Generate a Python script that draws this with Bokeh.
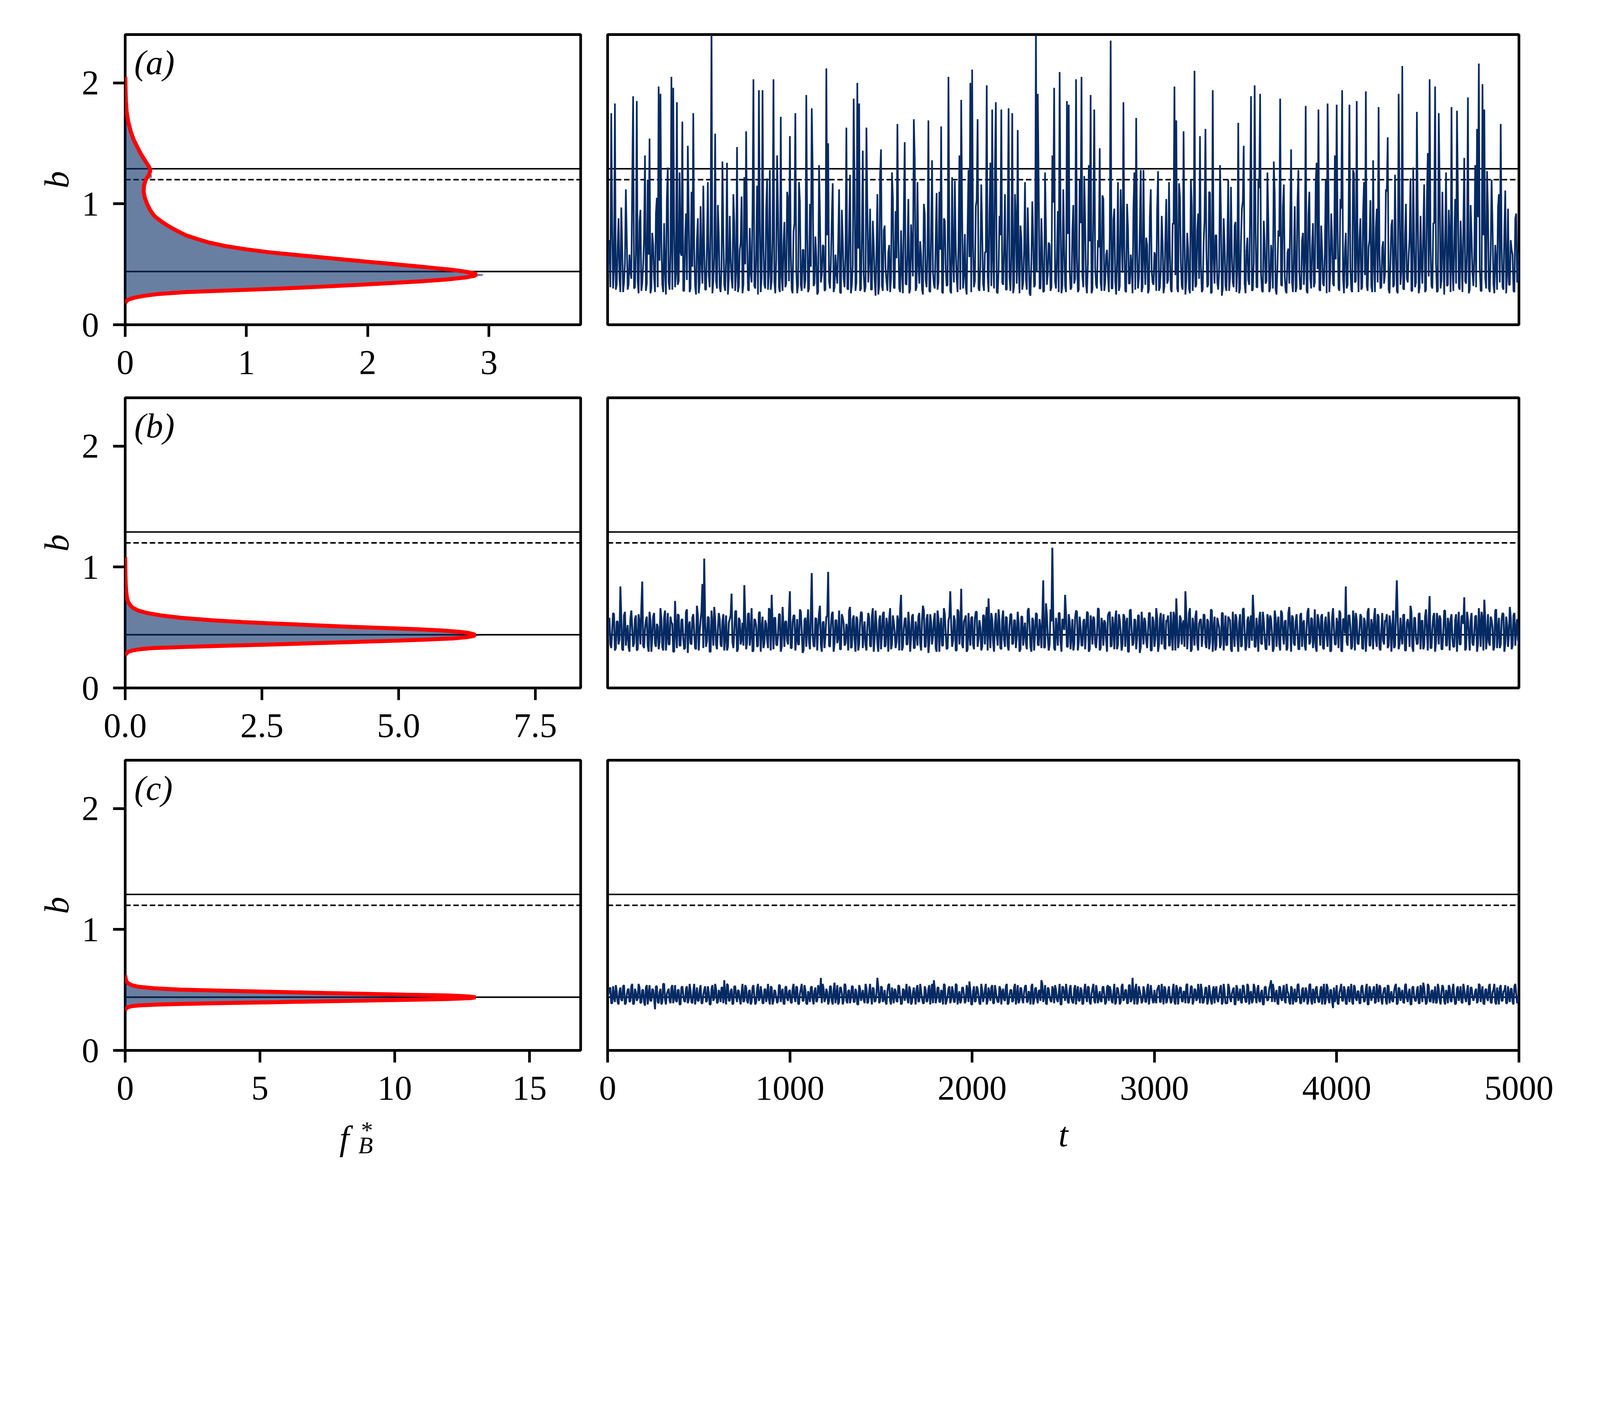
import numpy as np
from bokeh.plotting import figure
from bokeh.layouts import column, row
from bokeh.models import Span, Label, FixedTicker, Range1d
from bokeh.embed import file_html
from bokeh.resources import INLINE

# ---------------- data ----------------
# threshold / fixed-point levels of b
b_upper = 1.29
b_dashed = 1.20
b_stable = 0.44

# x-limits of the three density panels
xmax_left = [3.756, 8.33, 16.9]

# panel (a) histogram outline (b, f_B*) and analytic density
hist_a_b = [0.190, 0.200, 0.215, 0.230, 0.245, 0.260, 0.275, 0.290, 0.305, 0.320, 0.335, 0.350, 0.365, 0.380,
            0.395, 0.405, 0.418, 0.425, 0.440, 0.455, 0.470, 0.485, 0.500, 0.520, 0.540, 0.560, 0.580, 0.600,
            0.625, 0.650, 0.680, 0.710, 0.740, 0.780, 0.820, 0.860, 0.900, 0.950, 1.000, 1.050, 1.100, 1.150,
            1.200, 1.215, 1.240, 1.255, 1.300, 1.340, 1.380, 1.420, 1.470, 1.530, 1.600, 1.680, 1.760, 1.850,
            1.950, 2.050, 2.100]
hist_a_f = [0.00, 0.01, 0.03, 0.10, 0.20, 0.36, 0.62, 1.05, 1.42, 1.72, 2.02, 2.28, 2.52, 2.70,
            2.84, 2.95, 2.95, 2.86, 2.78, 2.67, 2.52, 2.37, 2.21, 1.99, 1.78, 1.57, 1.37, 1.17,
            0.98, 0.82, 0.68, 0.58, 0.49, 0.41, 0.34, 0.28, 0.235, 0.20, 0.175, 0.158, 0.148, 0.152,
            0.168, 0.22, 0.22, 0.20, 0.195, 0.17, 0.145, 0.12, 0.095, 0.068, 0.043, 0.024, 0.012, 0.007,
            0.004, 0.002, 0.000]
pdf_a_b = [0.180, 0.195, 0.210, 0.225, 0.240, 0.255, 0.270, 0.285, 0.300, 0.315, 0.330, 0.345, 0.360, 0.375,
           0.390, 0.405, 0.415, 0.425, 0.440, 0.455, 0.470, 0.485, 0.500, 0.520, 0.540, 0.560, 0.580, 0.600,
           0.625, 0.650, 0.680, 0.710, 0.740, 0.780, 0.820, 0.860, 0.900, 0.950, 1.000, 1.050, 1.100, 1.150,
           1.200, 1.240, 1.270, 1.300, 1.340, 1.380, 1.420, 1.470, 1.530, 1.600, 1.680, 1.760, 1.850, 1.950,
           2.050]
pdf_a_f = [0.000, 0.010, 0.030, 0.080, 0.160, 0.280, 0.500, 0.900, 1.300, 1.620, 1.920, 2.200, 2.450, 2.660,
           2.800, 2.880, 2.895, 2.880, 2.800, 2.690, 2.540, 2.390, 2.230, 2.010, 1.800, 1.590, 1.380, 1.180,
           0.990, 0.830, 0.690, 0.590, 0.500, 0.420, 0.350, 0.290, 0.240, 0.205, 0.180, 0.162, 0.152, 0.155,
           0.170, 0.195, 0.207, 0.200, 0.175, 0.150, 0.125, 0.100, 0.070, 0.045, 0.025, 0.012, 0.006, 0.003,
           0.001]

# panel (b)
hist_b_b = [0.280, 0.295, 0.305, 0.315, 0.325, 0.335, 0.345, 0.355, 0.365, 0.375, 0.385, 0.395, 0.405, 0.415,
            0.425, 0.432, 0.440, 0.447, 0.455, 0.465, 0.475, 0.485, 0.495, 0.505, 0.515, 0.525, 0.535, 0.545,
            0.560, 0.580, 0.600, 0.620, 0.640, 0.660, 0.680, 0.710, 0.750, 0.800, 0.860, 0.930, 1.000]
hist_b_f = [0.00, 0.04, 0.09, 0.19, 0.38, 0.80, 1.50, 2.30, 3.10, 3.80, 4.52, 5.20, 5.75, 6.12,
            6.32, 6.51, 6.51, 6.35, 6.25, 6.06, 5.76, 5.34, 4.76, 4.12, 3.62, 3.10, 2.58, 2.11,
            1.55, 1.00, 0.63, 0.39, 0.23, 0.14, 0.09, 0.05, 0.027, 0.015, 0.008, 0.004, 0.000]
pdf_b_b = [0.270, 0.285, 0.300, 0.310, 0.320, 0.330, 0.340, 0.350, 0.360, 0.370, 0.380, 0.390, 0.400, 0.410,
           0.420, 0.430, 0.438, 0.445, 0.455, 0.465, 0.475, 0.485, 0.495, 0.505, 0.515, 0.525, 0.535, 0.545,
           0.560, 0.580, 0.600, 0.620, 0.640, 0.660, 0.680, 0.710, 0.750, 0.800, 0.860, 0.930, 1.000, 1.080]
pdf_b_f = [0.000, 0.020, 0.060, 0.130, 0.260, 0.500, 1.150, 1.900, 2.700, 3.460, 4.160, 4.880, 5.500, 6.000,
           6.250, 6.370, 6.400, 6.370, 6.280, 6.100, 5.800, 5.380, 4.800, 4.150, 3.650, 3.140, 2.620, 2.150,
           1.580, 1.020, 0.650, 0.400, 0.240, 0.150, 0.100, 0.055, 0.030, 0.018, 0.010, 0.005, 0.002, 0.000]

# panel (c)
hist_c_b = [0.335, 0.348, 0.358, 0.366, 0.373, 0.379, 0.385, 0.392, 0.399, 0.405, 0.412, 0.419, 0.426, 0.433,
            0.440, 0.447, 0.455, 0.462, 0.470, 0.478, 0.486, 0.495, 0.504, 0.515, 0.527, 0.541, 0.556, 0.572,
            0.595, 0.620]
hist_c_f = [0.00, 0.03, 0.10, 0.26, 0.55, 1.20, 2.15, 3.75, 5.50, 7.05, 8.85, 10.55, 12.10, 12.90,
            13.05, 12.80, 11.95, 10.30, 8.60, 6.85, 5.25, 3.50, 1.95, 1.00, 0.47, 0.21, 0.10, 0.045,
            0.015, 0.000]
pdf_c_b = [0.330, 0.345, 0.355, 0.365, 0.372, 0.378, 0.384, 0.391, 0.398, 0.404, 0.411, 0.418, 0.425, 0.432,
           0.439, 0.446, 0.454, 0.461, 0.469, 0.477, 0.485, 0.494, 0.503, 0.514, 0.526, 0.540, 0.555, 0.570,
           0.590, 0.620]
pdf_c_f = [0.000, 0.020, 0.080, 0.220, 0.500, 1.100, 2.030, 3.600, 5.360, 6.900, 8.690, 10.400, 12.000, 12.800,
           13.000, 12.750, 12.000, 10.400, 8.690, 6.950, 5.360, 3.600, 2.030, 1.050, 0.500, 0.230, 0.110, 0.050,
           0.020, 0.000]

# time series of b (values x100): ts_* sampled at t = 0, 10, ..., 5000;
# ts_*_mid sampled at the half steps t = 5, 15, ..., 4995
ts_a = [
    42, 70, 175, 30, 183, 33, 88, 27, 64, 35, 112, 29, 58, 38, 189, 31, 185, 26, 95, 34,
    72, 28, 120, 154, 30, 66, 27, 105, 197, 191, 33, 84, 25, 130, 29, 205, 196, 31, 184, 36,
    60, 168, 28, 92, 148, 27, 110, 175, 32, 70, 26, 98, 34, 62, 29, 118, 31, 245, 36, 158,
    30, 74, 27, 135, 33, 56, 25, 90, 38, 108, 28, 147, 32, 68, 26, 122, 160, 29, 80, 35,
    203, 30, 115, 194, 27, 194, 33, 96, 29, 128, 36, 203, 26, 140, 31, 172, 28, 85, 34, 104,
    156, 29, 77, 175, 26, 118, 33, 62, 30, 190, 27, 100, 179, 32, 73, 25, 132, 35, 66, 28,
    212, 150, 30, 88, 27, 58, 34, 112, 26, 71, 31, 163, 29, 124, 33, 187, 28, 200, 183, 30,
    144, 27, 163, 35, 96, 29, 67, 24, 108, 32, 145, 28, 82, 36, 60, 27, 126, 31, 94, 166,
    30, 78, 26, 151, 33, 104, 29, 64, 170, 28, 118, 34, 57, 25, 92, 31, 169, 27, 136, 33,
    70, 29, 110, 164, 26, 86, 32, 205, 28, 122, 35, 64, 27, 140, 186, 30, 75, 25, 128, 200,
    211, 31, 98, 170, 28, 116, 34, 60, 198, 27, 134, 178, 30, 184, 26, 90, 178, 33, 108, 29,
    179, 28, 175, 32, 84, 161, 26, 72, 35, 118, 29, 63, 24, 102, 31, 245, 191, 30, 88, 27,
    126, 33, 68, 28, 140, 196, 30, 94, 209, 26, 112, 32, 185, 182, 29, 78, 34, 203, 27, 120,
    205, 31, 86, 26, 132, 190, 29, 178, 33, 70, 146, 28, 104, 35, 62, 27, 235, 30, 96, 25,
    118, 32, 74, 184, 28, 100, 34, 58, 26, 126, 171, 30, 80, 27, 128, 33, 66, 29, 112, 35,
    60, 28, 127, 31, 90, 26, 72, 34, 118, 29, 84, 197, 169, 27, 106, 32, 160, 25, 76, 30,
    120, 28, 210, 33, 92, 156, 27, 68, 162, 31, 110, 26, 194, 34, 74, 29, 132, 24, 88, 32,
    64, 28, 114, 35, 82, 27, 167, 30, 96, 148, 26, 72, 33, 189, 29, 198, 31, 120, 191, 28,
    86, 34, 126, 27, 66, 30, 108, 25, 78, 187, 32, 116, 28, 60, 34, 145, 27, 98, 31, 128,
    29, 70, 33, 181, 26, 110, 30, 84, 35, 134, 178, 28, 62, 32, 120, 183, 27, 92, 34, 140,
    182, 30, 104, 194, 26, 76, 33, 182, 29, 128, 35, 185, 27, 88, 31, 118, 193, 28, 70, 32,
    136, 27, 96, 180, 30, 64, 34, 112, 155, 26, 82, 31, 124, 28, 191, 33, 214, 29, 100, 35,
    72, 28, 130, 31, 176, 26, 90, 34, 116, 29, 142, 203, 32, 84, 197, 27, 175, 30, 110, 25,
    126, 33, 68, 180, 28, 104, 177, 31, 86, 27, 138, 34, 188, 29, 74, 32, 132, 162, 216, 28,
    199, 178, 30, 94, 27, 120, 34, 66, 29, 108, 166, 31, 78, 26, 96, 33, 62, 28, 88, 35,
    60]
ts_a_mid = [
    55, 31, 82, 46, 29, 64, 38, 97, 27, 51, 72, 33, 44, 118, 30, 61, 36, 85, 28, 49, 140, 34, 58, 26, 76,
    39, 92, 31, 53, 68, 27, 45, 104, 35, 60, 29, 81, 42, 33, 126, 57, 28, 70, 37, 94, 30, 48, 63, 25, 88,
    34, 52, 115, 29, 66, 41, 79, 26, 57, 36, 99, 31, 47, 72, 28, 134, 38, 55, 30, 83, 44, 27, 62, 106, 33,
    50, 75, 28, 43, 96, 32, 58, 25, 87, 39, 64, 30, 121, 46, 29, 71, 35, 54, 93, 27, 40, 67, 31, 110, 36,
    59, 26, 84, 45, 33, 102, 28, 62, 37, 77, 30, 48, 129, 34, 56, 27, 90, 41, 65, 29, 74, 36, 52, 117, 31,
    43, 68, 27, 95, 38, 57, 30, 81, 26, 49, 112, 35, 63, 28, 73, 42, 31, 98, 54, 29, 86, 37, 60, 25, 124,
    32, 78, 46, 28, 66, 39, 105, 30, 55, 71, 27, 44, 91, 34, 59, 26, 83, 40, 137, 31, 50, 69, 29, 100, 37,
    58, 28, 76, 43, 30, 109, 35, 62, 27, 88, 47, 33, 72, 26, 54, 119, 38, 65, 29, 94, 41, 31, 80, 56, 27,
    67, 36, 103, 30, 49, 78, 28, 60, 40, 92, 32, 53, 131, 27, 45, 74, 35, 63, 29, 86, 39, 57, 26, 108, 34,
    48, 82, 29, 61, 37, 97, 26, 52, 70, 33, 44, 115, 30, 58, 28, 79, 42, 66, 31, 101, 36, 55, 27, 89, 32,
    62, 27, 75, 45, 31, 99, 38, 56, 29, 84, 40, 123, 33, 51, 69, 26, 93, 47, 30, 64, 35, 107, 28, 58, 41,
    73, 30, 87, 36, 53, 28, 112, 43, 65, 27, 80, 34, 49, 96, 29, 61, 39, 128, 31, 55, 72, 26, 90, 44, 33,
    57, 95, 28, 46, 68, 32, 104, 37, 59, 27, 83, 41, 30, 117, 52, 29, 71, 36, 63, 26, 99, 45, 31, 78, 38,
    50, 29, 86, 62, 33, 109, 27, 55, 74, 35, 44, 92, 30, 66, 28, 120, 39, 58, 31, 85, 47, 26, 69, 102, 34,
    61, 37, 94, 28, 52, 79, 31, 113, 42, 27, 67, 36, 88, 30, 56, 135, 29, 48, 73, 33, 97, 40, 26, 63, 86,
    35, 57, 27, 101, 44, 30, 76, 53, 28, 91, 38, 65, 31, 118, 46, 29, 82, 34, 59, 26, 107, 43, 70, 32, 54,
    78, 28, 96, 39, 60, 30, 85, 47, 27, 125, 36, 55, 71, 29, 93, 41, 32, 64, 103, 27, 50, 80, 35, 58, 31,
    69, 42, 110, 29, 53, 87, 33, 62, 26, 98, 45, 30, 74, 38, 57, 121, 28, 66, 35, 90, 31, 49, 77, 27, 105,
    40, 63, 30, 84, 51, 28, 116, 37, 59, 72, 32, 95, 27, 46, 68, 34, 108, 29, 55, 81, 36, 61, 26, 99, 43,
    56, 31, 89, 47, 28, 74, 39, 127, 30, 60, 83, 26, 52, 97, 35, 65, 29, 111, 42, 33, 70, 58, 27, 92, 38]
ts_b = [
    40, 58, 33, 62, 31, 55, 36, 84, 32, 60, 35, 52, 30, 64, 34, 57, 31, 61, 36, 88,
    33, 56, 35, 63, 30, 59, 37, 53, 32, 66, 34, 58, 31, 62, 36, 54, 30, 72, 33, 60,
    35, 57, 32, 63, 29, 55, 36, 61, 33, 68, 31, 56, 86, 107, 34, 59, 30, 64, 35, 57,
    32, 62, 36, 55, 31, 60, 34, 57, 78, 33, 63, 30, 58, 36, 54, 85, 32, 61, 35, 66,
    31, 56, 34, 62, 30, 59, 37, 53, 33, 64, 77, 32, 58, 35, 61, 30, 67, 34, 55, 36,
    80, 33, 60, 31, 57, 36, 63, 29, 56, 34, 65, 32, 95, 35, 58, 31, 62, 36, 54, 33,
    59, 96, 34, 61, 30, 56, 37, 64, 32, 58, 35, 53, 31, 67, 34, 60, 30, 57, 36, 63,
    33, 55, 31, 62, 35, 59, 30, 64, 37, 56, 32, 61, 34, 58, 30, 66, 36, 54, 33, 60,
    31, 77, 34, 57, 36, 63, 30, 59, 33, 55, 35, 62, 31, 68, 34, 57, 29, 61, 36, 56,
    33, 64, 30, 58, 35, 61, 32, 56, 80, 34, 60, 31, 65, 36, 82, 33, 57, 30, 62, 35,
    59, 32, 63, 34, 56, 31, 60, 36, 67, 74, 33, 57, 30, 62, 35, 55, 32, 64, 34, 58,
    31, 61, 36, 56, 33, 63, 30, 59, 35, 54, 32, 66, 34, 58, 31, 62, 36, 57, 33, 89,
    34, 60, 31, 65, 116, 33, 58, 35, 62, 30, 56, 77, 34, 61, 32, 57, 36, 64, 31, 59,
    35, 55, 32, 63, 30, 60, 36, 57, 33, 66, 31, 58, 35, 54, 30, 62, 34, 59, 32, 64,
    36, 56, 31, 61, 34, 58, 30, 65, 35, 57, 32, 60, 29, 63, 36, 55, 33, 62, 31, 59,
    34, 66, 30, 57, 36, 61, 32, 55, 35, 63, 31, 58, 74, 33, 60, 36, 56, 80, 32, 62,
    30, 58, 35, 64, 31, 56, 34, 61, 37, 57, 32, 65, 30, 59, 35, 54, 33, 62, 31, 60,
    36, 57, 32, 63, 34, 58, 30, 61, 35, 66, 31, 56, 33, 60, 77, 34, 58, 30, 63, 36,
    55, 32, 61, 35, 57, 30, 64, 34, 59, 31, 62, 36, 56, 33, 67, 30, 58, 35, 61, 32,
    60, 34, 56, 31, 63, 36, 58, 33, 65, 30, 57, 35, 61, 32, 59, 34, 54, 31, 66, 36,
    58, 33, 62, 30, 57, 84, 35, 60, 32, 64, 31, 56, 36, 61, 33, 58, 30, 63, 35, 57,
    32, 66, 34, 59, 31, 62, 36, 55, 33, 60, 30, 64, 35, 89, 32, 58, 36, 61, 31, 57,
    34, 63, 30, 58, 36, 61, 32, 56, 35, 65, 31, 76, 33, 59, 30, 62, 36, 57, 32, 64,
    35, 58, 31, 61, 34, 56, 30, 63, 36, 60, 75, 33, 57, 31, 62, 35, 59, 30, 66, 34,
    57, 73, 32, 61, 35, 56, 31, 64, 33, 58, 36, 62, 30, 59, 34, 67, 32, 60, 35, 57,
    36]
ts_b_mid = [
    52, 36, 47, 61, 33, 55, 40, 58, 31, 63, 45, 34, 57, 50, 37, 60, 32, 54, 66, 35, 49, 59, 30, 56, 42,
    62, 34, 51, 38, 57, 31, 64, 44, 36, 59, 53, 30, 48, 61, 35, 56, 41, 33, 65, 50, 37, 58, 46, 32, 60,
    46, 63, 33, 55, 39, 58, 30, 52, 67, 36, 49, 57, 34, 61, 43, 31, 54, 60, 38, 47, 64, 32, 56, 41, 35,
    59, 37, 62, 45, 30, 57, 51, 35, 63, 48, 33, 56, 40, 66, 31, 53, 58, 36, 44, 61, 34, 50, 55, 39, 62,
    33, 54, 60, 41, 36, 65, 47, 31, 58, 52, 38, 62, 44, 34, 57, 49, 68, 30, 55, 43, 59, 35, 51, 63, 37,
    56, 42, 32, 61, 53, 37, 48, 64, 33, 57, 40, 59, 31, 54, 62, 45, 36, 50, 58, 34, 66, 41, 52, 30, 60,
    44, 63, 35, 51, 57, 32, 60, 46, 38, 55, 65, 31, 49, 58, 36, 53, 42, 61, 33, 47, 59, 37, 56, 64, 34,
    61, 38, 54, 43, 62, 30, 57, 50, 35, 66, 45, 33, 59, 52, 39, 56, 31, 63, 48, 36, 55, 60, 32, 46, 58,
    36, 57, 63, 41, 50, 34, 60, 55, 31, 48, 62, 38, 53, 44, 65, 33, 57, 40, 59, 35, 51, 61, 37, 56, 43,
    54, 32, 59, 47, 37, 64, 52, 30, 56, 45, 61, 35, 49, 58, 33, 70, 42, 36, 55, 60, 31, 47, 62, 39, 57,
    48, 61, 34, 55, 43, 31, 58, 63, 38, 50, 35, 57, 46, 62, 32, 54, 59, 37, 44, 65, 33, 52, 56, 40, 60,
    63, 35, 50, 57, 32, 61, 45, 36, 59, 53, 30, 64, 48, 37, 56, 42, 60, 34, 51, 58, 39, 47, 62, 31, 55,
    41, 58, 36, 62, 49, 33, 56, 60, 35, 46, 63, 31, 54, 39, 57, 52, 34, 61, 45, 66, 32, 50, 59, 37, 53,
    57, 44, 60, 33, 55, 38, 64, 47, 31, 58, 50, 36, 62, 43, 35, 59, 56, 30, 48, 61, 40, 54, 34, 65, 46,
    35, 59, 52, 39, 61, 34, 48, 57, 37, 63, 42, 32, 56, 60, 45, 33, 58, 51, 36, 64, 44, 55, 31, 62, 49,
    60, 37, 55, 46, 32, 62, 53, 35, 50, 66, 38, 57, 41, 34, 61, 47, 59, 33, 54, 43, 63, 30, 58, 49, 36,
    52, 64, 31, 57, 45, 38, 60, 50, 34, 56, 62, 37, 48, 59, 32, 55, 43, 66, 35, 51, 58, 40, 61, 33, 47,
    39, 56, 61, 35, 53, 47, 33, 63, 57, 36, 44, 60, 31, 54, 50, 68, 34, 58, 42, 37, 62, 55, 32, 59, 46,
    58, 33, 49, 62, 38, 55, 60, 32, 46, 64, 35, 52, 57, 41, 34, 61, 48, 36, 59, 53, 31, 63, 44, 56, 37,
    45, 60, 36, 53, 63, 31, 57, 42, 38, 59, 50, 34, 65, 47, 33, 56, 61, 37, 52, 44, 58, 35, 62, 49, 40]
ts_c = [
    44, 51, 39, 53, 40, 49, 38, 52, 41, 54, 39, 50, 40, 53, 38, 51, 41, 55, 39, 50,
    40, 52, 38, 54, 41, 50, 34, 53, 39, 51, 40, 55, 38, 49, 41, 52, 39, 54, 40, 50,
    38, 53, 41, 51, 39, 55, 40, 49, 38, 52, 41, 54, 39, 50, 40, 53, 38, 51, 41, 55,
    39, 50, 40, 52, 58, 38, 54, 41, 51, 39, 53, 40, 49, 38, 55, 41, 52, 39, 50, 40,
    54, 38, 51, 41, 53, 39, 50, 40, 55, 38, 52, 41, 49, 39, 54, 40, 51, 38, 53, 41,
    50, 39, 55, 40, 52, 38, 51, 41, 54, 39, 49, 40, 53, 38, 52, 41, 50, 60, 55, 40,
    51, 38, 53, 41, 50, 39, 54, 40, 52, 38, 55, 41, 49, 39, 53, 40, 51, 38, 54, 41,
    50, 39, 52, 40, 55, 38, 51, 41, 60, 39, 53, 40, 50, 38, 54, 41, 52, 39, 49, 40,
    53, 38, 51, 41, 55, 39, 50, 40, 52, 38, 54, 41, 49, 39, 53, 40, 51, 38, 55, 58,
    39, 52, 40, 50, 38, 54, 41, 51, 39, 53, 40, 55, 38, 49, 41, 52, 39, 54, 40, 50,
    38, 53, 41, 51, 39, 55, 40, 50, 38, 52, 41, 54, 39, 49, 40, 53, 38, 51, 41, 55,
    39, 50, 40, 52, 38, 54, 41, 51, 39, 53, 40, 49, 38, 55, 41, 52, 39, 50, 58, 40,
    54, 38, 51, 41, 53, 39, 50, 40, 55, 38, 52, 41, 49, 39, 54, 40, 51, 38, 53, 41,
    50, 39, 55, 40, 52, 38, 51, 41, 54, 39, 49, 40, 53, 38, 52, 41, 50, 39, 55, 40,
    51, 38, 53, 41, 50, 39, 54, 40, 60, 38, 55, 41, 49, 39, 53, 40, 51, 38, 54, 41,
    50, 39, 52, 40, 55, 38, 51, 41, 53, 39, 50, 40, 54, 38, 52, 41, 49, 39, 55, 40,
    53, 38, 51, 41, 55, 39, 50, 40, 52, 38, 54, 41, 49, 39, 53, 40, 51, 38, 55, 39,
    39, 52, 40, 50, 38, 54, 41, 51, 39, 53, 40, 55, 38, 49, 41, 52, 39, 54, 40, 50,
    38, 53, 41, 51, 58, 55, 40, 50, 38, 52, 41, 54, 39, 49, 40, 53, 38, 51, 41, 55,
    39, 50, 40, 52, 38, 54, 41, 51, 39, 53, 40, 49, 38, 55, 41, 52, 39, 50, 35, 40,
    54, 38, 51, 41, 53, 39, 50, 40, 55, 38, 52, 41, 49, 39, 54, 40, 51, 38, 53, 41,
    50, 39, 55, 40, 52, 38, 51, 41, 54, 39, 49, 40, 53, 38, 52, 41, 50, 39, 55, 40,
    51, 38, 53, 41, 50, 39, 54, 40, 52, 38, 55, 41, 49, 39, 53, 40, 51, 38, 54, 41,
    50, 39, 52, 40, 55, 38, 51, 41, 53, 39, 50, 40, 54, 38, 52, 41, 49, 39, 55, 40,
    53, 38, 51, 41, 55, 39, 50, 40, 52, 38, 54, 41, 49, 39, 53, 40, 51, 38, 55, 39,
    45]
ts_c_mid = [
    47, 52, 39, 44, 54, 40, 49, 42, 53, 38, 46, 51, 41, 55, 39, 48, 43, 52, 40, 50, 37, 54, 45, 41, 51,
    43, 53, 40, 48, 38, 55, 42, 47, 51, 39, 54, 44, 41, 50, 38, 52, 46, 40, 53, 42, 49, 39, 55, 44, 41,
    50, 39, 46, 53, 41, 48, 38, 54, 43, 51, 40, 47, 52, 39, 45, 55, 41, 49, 38, 53, 44, 50, 42, 48, 40,
    54, 41, 49, 38, 52, 45, 40, 55, 43, 48, 39, 51, 46, 42, 53, 38, 50, 44, 41, 54, 47, 39, 52, 43, 49,
    40, 51, 44, 53, 39, 47, 55, 41, 50, 38, 46, 52, 42, 49, 40, 54, 45, 39, 51, 43, 48, 41, 53, 38, 56,
    45, 38, 52, 47, 41, 54, 39, 50, 43, 53, 40, 48, 38, 51, 45, 42, 55, 39, 49, 44, 52, 40, 47, 53, 41,
    52, 43, 40, 49, 55, 38, 46, 51, 41, 54, 44, 39, 50, 47, 42, 53, 38, 48, 45, 51, 40, 55, 43, 39, 50,
    41, 54, 47, 39, 51, 43, 52, 40, 48, 55, 38, 45, 53, 42, 49, 40, 54, 44, 39, 52, 46, 41, 50, 57, 38,
    49, 40, 53, 45, 38, 50, 44, 55, 41, 47, 52, 39, 54, 43, 40, 51, 48, 42, 53, 38, 46, 50, 41, 55, 44,
    39, 52, 42, 48, 54, 40, 47, 53, 38, 51, 43, 49, 41, 55, 45, 39, 52, 44, 40, 50, 54, 42, 47, 38, 53,
    46, 55, 40, 51, 43, 39, 54, 48, 41, 52, 38, 50, 45, 53, 40, 47, 55, 39, 49, 44, 41, 52, 46, 40, 54,
    53, 41, 48, 38, 52, 46, 40, 55, 43, 50, 39, 54, 42, 47, 51, 38, 53, 45, 41, 49, 40, 55, 44, 48, 39,
    42, 50, 54, 40, 47, 53, 39, 49, 44, 41, 55, 38, 51, 46, 52, 40, 48, 54, 39, 45, 53, 41, 50, 43, 47,
    55, 39, 45, 52, 41, 48, 38, 53, 50, 42, 46, 54, 40, 49, 39, 55, 43, 47, 52, 38, 51, 44, 40, 54, 46,
    40, 53, 47, 39, 55, 44, 51, 41, 48, 38, 52, 45, 42, 54, 40, 50, 46, 39, 53, 43, 49, 41, 55, 47, 38,
    51, 44, 40, 54, 46, 39, 52, 43, 49, 41, 55, 38, 47, 51, 44, 40, 53, 48, 38, 55, 42, 50, 40, 52, 45,
    39, 48, 55, 41, 50, 38, 53, 46, 40, 54, 43, 49, 39, 52, 47, 41, 55, 38, 50, 45, 53, 40, 48, 54, 42,
    47, 52, 38, 53, 44, 41, 49, 55, 39, 51, 46, 40, 54, 43, 48, 38, 52, 45, 41, 53, 39, 50, 56, 44, 40,
    53, 40, 50, 45, 39, 55, 42, 48, 52, 38, 47, 54, 41, 50, 44, 39, 53, 46, 40, 55, 43, 49, 38, 52, 45,
    44, 51, 41, 54, 47, 39, 50, 43, 53, 40, 48, 55, 38, 46, 52, 41, 49, 54, 39, 45, 51, 40, 53, 47, 42]

panel_tags = ["(a)", "(b)", "(c)"]
left_xticks = [[0, 1, 2, 3], [0, 2.5, 5, 7.5], [0, 5, 10, 15]]
left_xlabels = [["0", "1", "2", "3"], ["0.0", "2.5", "5.0", "7.5"], ["0", "5", "10", "15"]]
y_ticks = [0, 1, 2]
t_ticks = [0, 1000, 2000, 3000, 4000, 5000]

# ---------------- style / layout (CSS px; the browser shows ~1.175 device px per CSS px) ----------------
K = 1.175


def s(v):
    return v / K


FONT = "Liberation Serif"
FS = "%.1fpx" % s(104)
FS_SMALL = "%.1fpx" % s(72)
NAVY = "#052a63"
RED = "#ff0000"
SERIES_WIDTH = [s(5.0), s(5.6), s(5.6)]

FRAME_H = 743
LEFT_W = 1166
RIGHT_W = 2333
L_BORDER_L, L_BORDER_R = 320, 34
R_BORDER_L, R_BORDER_R = 35, 181
TOPS = [88, 17, 15]
BOTTOMS = [170, 170, 170]
RIGHT_C_BOTTOM = 359
LABEL_FIG_H = RIGHT_C_BOTTOM - 170


def style_axis(ax):
    ax.axis_line_color = None
    ax.major_tick_out = int(round(s(36)))
    ax.major_tick_in = 0
    ax.major_tick_line_width = s(8)
    ax.major_tick_line_color = "black"
    ax.minor_tick_line_color = None
    ax.major_label_text_font = FONT
    ax.major_label_text_font_size = FS
    ax.major_label_text_color = "black"
    ax.axis_label_text_font = FONT
    ax.axis_label_text_font_size = FS
    ax.axis_label_text_font_style = "italic"
    ax.axis_label_text_color = "black"


def base(frame_w, xr, top, bottom, left, right):
    p = figure(frame_width=frame_w, frame_height=FRAME_H,
               x_range=Range1d(*xr), y_range=Range1d(0, 2.4),
               output_backend="svg", toolbar_location=None,
               min_border_left=left, min_border_right=right,
               min_border_top=top, min_border_bottom=bottom)
    p.background_fill_color = "white"
    p.border_fill_color = "white"
    p.outline_line_color = "black"
    p.outline_line_width = s(8)
    p.grid.visible = False
    for ax in p.xaxis + p.yaxis:
        style_axis(ax)
    return p


def add_levels(p):
    p.add_layout(Span(location=b_upper, dimension="width", line_color="black",
                      line_width=s(4.5), level="underlay"))
    p.add_layout(Span(location=b_dashed, dimension="width", line_color="black",
                      line_width=s(4.5), line_dash="14 7", level="underlay"))
    p.add_layout(Span(location=b_stable, dimension="width", line_color="black",
                      line_width=s(4.5), level="underlay"))


hists = [(hist_a_b, hist_a_f), (hist_b_b, hist_b_f), (hist_c_b, hist_c_f)]
pdfs = [(pdf_a_b, pdf_a_f), (pdf_b_b, pdf_b_f), (pdf_c_b, pdf_c_f)]
series = [(ts_a, ts_a_mid), (ts_b, ts_b_mid), (ts_c, ts_c_mid)]

rows = []
for i in range(3):
    xmax = xmax_left[i]
    pl = base(LEFT_W, (0, xmax), TOPS[i], BOTTOMS[i], L_BORDER_L, L_BORDER_R)
    add_levels(pl)
    hb, hf = hists[i]
    pl.harea(x1=0, x2=hf, y=hb, fill_color=NAVY, fill_alpha=0.6)
    pb, pf = pdfs[i]
    pl.line(pf, pb, line_color=RED, line_width=s(12))
    pl.xaxis.ticker = FixedTicker(ticks=left_xticks[i])
    pl.xaxis.major_label_overrides = {t: lab for t, lab in zip(left_xticks[i], left_xlabels[i])}
    pl.xaxis.major_label_standoff = 36
    pl.yaxis.ticker = FixedTicker(ticks=y_ticks)
    pl.yaxis.major_label_standoff = 36
    pl.yaxis.axis_label = "b"
    pl.yaxis.axis_label_standoff = 12
    pl.add_layout(Label(x=0.02 * xmax, y=2.17, text=panel_tags[i], text_font=FONT,
                        text_font_size=FS, text_font_style="italic",
                        text_baseline="alphabetic", text_align="left", text_color="black"))

    bottom_r = BOTTOMS[i] if i < 2 else RIGHT_C_BOTTOM
    pr = base(RIGHT_W, (0, 5000), TOPS[i], bottom_r, R_BORDER_L, R_BORDER_R)
    add_levels(pr)
    main, mid = series[i]
    t_main = np.linspace(0, 5000, len(main))
    t_mid = t_main[:-1] + (t_main[1] - t_main[0]) / 2.0
    tt = np.concatenate([t_main, t_mid[:len(mid)]])
    vals = np.concatenate([np.array(main), np.array(mid[:len(t_mid)])]) / 100.0
    order = np.argsort(tt, kind="stable")
    pr.line(tt[order], vals[order], line_color=NAVY, line_width=SERIES_WIDTH[i])
    pr.yaxis.visible = False
    if i < 2:
        pr.xaxis.visible = False
        rows.append(row(pl, pr))
    else:
        pr.xaxis.ticker = FixedTicker(ticks=t_ticks)
        pr.xaxis.major_label_standoff = 36
        pr.xaxis.axis_label = "t"
        pr.xaxis.axis_label_standoff = 38
        # composed x-label f_B^* for the density panel, in a strip below it
        pf_lab = figure(frame_width=LEFT_W, frame_height=LABEL_FIG_H,
                        x_range=Range1d(0, xmax), y_range=Range1d(0, LABEL_FIG_H),
                        output_backend="svg", toolbar_location=None,
                        x_axis_location=None, y_axis_location=None,
                        min_border_left=L_BORDER_L, min_border_right=L_BORDER_R,
                        min_border_top=0, min_border_bottom=0)
        pf_lab.outline_line_color = None
        pf_lab.grid.visible = False
        pf_lab.background_fill_color = "white"
        pf_lab.border_fill_color = "white"
        pf_lab.add_layout(Label(x=7.95, y=135, text="f", text_font=FONT, text_font_size=FS,
                                text_font_style="italic", text_baseline="alphabetic", text_color="black"))
        pf_lab.add_layout(Label(x=8.65, y=117, text="B", text_font=FONT, text_font_size=FS_SMALL,
                                text_font_style="italic", text_baseline="alphabetic", text_color="black"))
        pf_lab.add_layout(Label(x=8.75, y=156, text="*", text_font=FONT, text_font_size=FS_SMALL,
                                text_baseline="alphabetic", text_color="black"))
        rows.append(row(column(pl, pf_lab), pr))

layout = column(*rows)
open("out.html", "w").write(file_html(layout, INLINE))
